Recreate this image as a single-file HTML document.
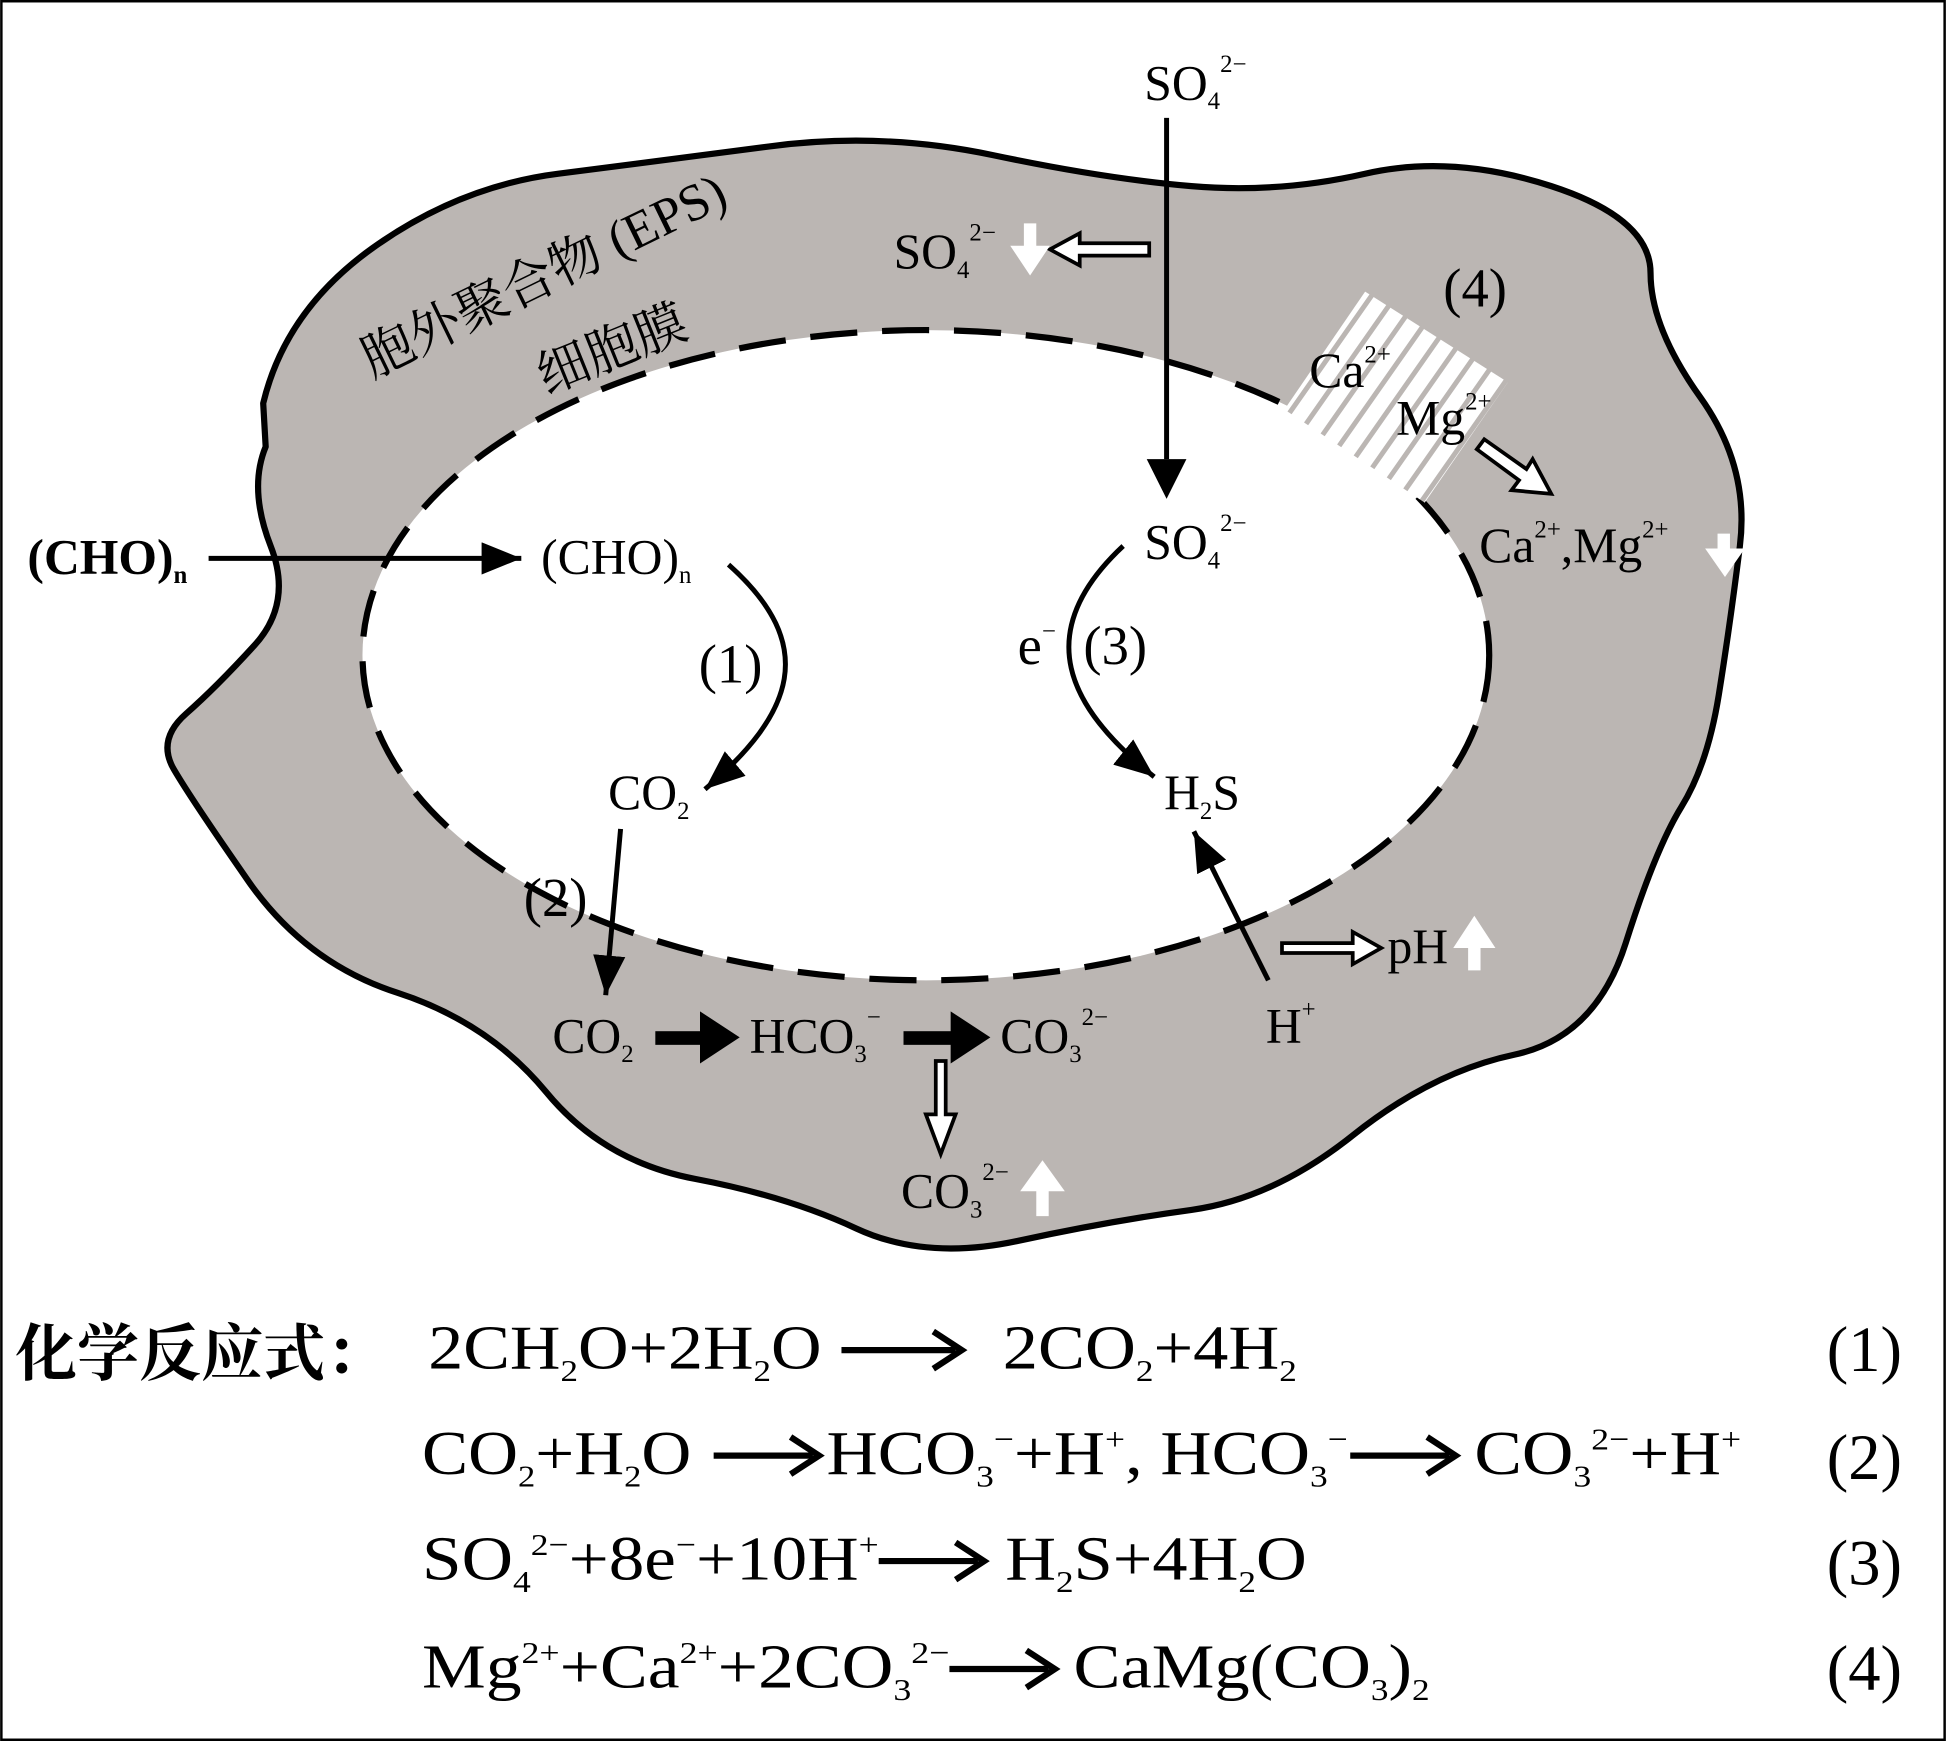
<!DOCTYPE html>
<html><head><meta charset="utf-8"><style>html,body{margin:0;padding:0;background:#fff}svg{display:block}text{font-family:"Liberation Serif","Noto Serif CJK SC",serif;fill:#000}</style></head><body>
<svg width="1946" height="1741" viewBox="0 0 1568 1403" xmlns="http://www.w3.org/2000/svg">
<defs>
<marker id="ah" markerWidth="32" markerHeight="26" refX="10" refY="5" orient="auto" markerUnits="userSpaceOnUse" viewBox="0 0 10 10" preserveAspectRatio="none"><path d="M0,0 L10,5 L0,10 z" fill="#000"/></marker>
<pattern id="hatch" width="16" height="16" patternUnits="userSpaceOnUse" patternTransform="rotate(35)"><rect width="16" height="16" fill="#fff"/><rect x="0" y="0" width="4" height="16" fill="#bbb6b3"/></pattern>
</defs>
<rect x="1" y="1" width="1566" height="1401" fill="#fff" stroke="#000" stroke-width="2"/>
<path d="M212,325 Q230,250 300,200 T450,140 T620,118 T800,125 T960,150 T1100,140 T1250,150 T1330,220 T1370,320 T1402,440 T1385,560 T1355,650 T1310,760 T1220,850 T1090,915 T960,975 T820,1000 T690,990 T560,950 T440,880 T320,800 T200,710 T140,620 T150,575 T205,520 T218,440 T214,360 Z" fill="#bbb6b3" stroke="#000" stroke-width="5" stroke-linejoin="round"/>
<ellipse cx="746" cy="528" rx="454" ry="262" fill="#fff" stroke="#000" stroke-width="5" stroke-dasharray="38 20"/>
<polygon points="1100,235 1215,308 1148,405 1035,330" fill="url(#hatch)"/>
<g font-size="40">
<text transform="translate(300,305) rotate(-26)" font-size="42">胞外聚合物 (EPS)</text>
<text transform="translate(440,318) rotate(-22)" font-size="42">细胞膜</text>
<text x="922" y="80">SO<tspan font-size="20" dy="8">4</tspan><tspan font-size="20" dy="-30">2−</tspan></text>
<text x="720" y="216">SO<tspan font-size="20" dy="8">4</tspan><tspan font-size="20" dy="-30">2−</tspan></text>
<text x="1163" y="247" font-size="44">(4)</text>
<text x="1055" y="312">Ca<tspan font-size="20" dy="-20">2+</tspan></text>
<text x="1125" y="350">Mg<tspan font-size="20" dy="-20">2+</tspan></text>
<text x="1192" y="453">Ca<tspan font-size="20" dy="-20">2+</tspan><tspan dy="20">,Mg</tspan><tspan font-size="20" dy="-20">2+</tspan></text>
<text x="22" y="462" font-weight="bold">(CHO)<tspan font-size="20" dy="8">n</tspan></text>
<text x="436" y="462">(CHO)<tspan font-size="20" dy="8">n</tspan></text>
<text x="922" y="450">SO<tspan font-size="20" dy="8">4</tspan><tspan font-size="20" dy="-30">2−</tspan></text>
<text x="563" y="550" font-size="44">(1)</text>
<text x="820" y="535" font-size="44">e<tspan font-size="20" dy="-20">−</tspan></text>
<text x="873" y="535" font-size="44">(3)</text>
<text x="490" y="652">CO<tspan font-size="20" dy="8">2</tspan></text>
<text x="938" y="652">H<tspan font-size="20" dy="8">2</tspan><tspan dy="-8">S</tspan></text>
<text x="422" y="738" font-size="44">(2)</text>
<text x="1118" y="776">pH</text>
<text x="445" y="848">CO<tspan font-size="20" dy="8">2</tspan></text>
<text x="604" y="848">HCO<tspan font-size="20" dy="8">3</tspan><tspan font-size="20" dy="-30">−</tspan></text>
<text x="806" y="848">CO<tspan font-size="20" dy="8">3</tspan><tspan font-size="20" dy="-30">2−</tspan></text>
<text x="1020" y="840">H<tspan font-size="20" dy="-20">+</tspan></text>
<text x="726" y="973">CO<tspan font-size="20" dy="8">3</tspan><tspan font-size="20" dy="-30">2−</tspan></text>
</g>
<g stroke="#000" stroke-width="4" fill="none">
<line x1="940" y1="95" x2="940" y2="370"/>
<line x1="168" y1="450" x2="420" y2="450" marker-end="url(#ah)"/>
<path d="M587,455 C660,520 640,575 568,636" marker-end="url(#ah)"/>
<path d="M905,440 C830,510 860,570 930,626" marker-end="url(#ah)"/>
<line x1="500" y1="668" x2="488" y2="802" marker-end="url(#ah)"/>
<line x1="1022" y1="790" x2="962" y2="670" marker-end="url(#ah)"/>
</g>
<path d="M924,370 L956,370 L940,402 Z" fill="#000"/>
<rect x="528" y="831" width="38" height="11" fill="#000"/>
<path d="M564,815 L596,836 L564,857 Z" fill="#000"/>
<rect x="728" y="831" width="40" height="11" fill="#000"/>
<path d="M766,815 L798,836 L766,857 Z" fill="#000"/>
<path d="M926,196 L926,206 L870,206 L870,214 L846,201 L870,188 L870,196 Z" fill="#fff" stroke="#000" stroke-width="3"/>
<path d="M1190,362 L1196,354 L1230,378 L1235,370 L1250,398 L1218,395 L1224,387 Z" fill="#fff" stroke="#000" stroke-width="3"/>
<path d="M1033,760 L1033,768 L1090,768 L1090,777 L1113,764 L1090,751 L1090,760 Z" fill="#fff" stroke="#000" stroke-width="3"/>
<path d="M754,855 L762,855 L762,898 L770,898 L758,930 L746,898 L754,898 Z" fill="#fff" stroke="#000" stroke-width="3"/>
<g fill="#fff">
<path d="M825,180 L835,180 L835,198 L846,198 L830,222 L814,198 L825,198 Z"/>
<path d="M1384,430 L1394,430 L1394,442 L1406,442 L1390,465 L1374,442 L1384,442 Z"/>
<path d="M1183,782 L1193,782 L1193,764 L1205,764 L1188,738 L1171,764 L1183,764 Z"/>
<path d="M835,980 L845,980 L845,960 L858,960 L840,935 L822,960 L835,960 Z"/>
</g>
<g font-size="50">
<text x="12" y="1108" font-weight="bold" font-family="'Noto Serif CJK SC','Noto Sans CJK SC',serif">化学反应式：</text>
<text x="345" y="1103" textLength="317" lengthAdjust="spacingAndGlyphs">2CH<tspan font-size="25" dy="10">2</tspan><tspan dy="-10">O+2H</tspan><tspan font-size="25" dy="10">2</tspan><tspan dy="-10">O</tspan></text>
<text x="808" y="1103" textLength="237" lengthAdjust="spacingAndGlyphs">2CO<tspan font-size="25" dy="10">2</tspan><tspan dy="-10">+4H</tspan><tspan font-size="25" dy="10">2</tspan></text>
<text x="340" y="1188" textLength="217" lengthAdjust="spacingAndGlyphs">CO<tspan font-size="25" dy="10">2</tspan><tspan dy="-10">+H</tspan><tspan font-size="25" dy="10">2</tspan><tspan dy="-10">O</tspan></text>
<text x="666" y="1188" textLength="420" lengthAdjust="spacingAndGlyphs">HCO<tspan font-size="25" dy="10">3</tspan><tspan font-size="25" dy="-30">−</tspan><tspan dy="20">+H</tspan><tspan font-size="25" dy="-20">+</tspan><tspan dy="20">, HCO</tspan><tspan font-size="25" dy="10">3</tspan><tspan font-size="25" dy="-30">−</tspan></text>
<text x="1188" y="1188" textLength="215" lengthAdjust="spacingAndGlyphs">CO<tspan font-size="25" dy="10">3</tspan><tspan font-size="25" dy="-30">2−</tspan><tspan dy="20">+H</tspan><tspan font-size="25" dy="-20">+</tspan></text>
<text x="340" y="1273" textLength="368" lengthAdjust="spacingAndGlyphs">SO<tspan font-size="25" dy="10">4</tspan><tspan font-size="25" dy="-30">2−</tspan><tspan dy="20">+8e</tspan><tspan font-size="25" dy="-20">−</tspan><tspan dy="20">+10H</tspan><tspan font-size="25" dy="-20">+</tspan></text>
<text x="810" y="1273" textLength="243" lengthAdjust="spacingAndGlyphs">H<tspan font-size="25" dy="10">2</tspan><tspan dy="-10">S+4H</tspan><tspan font-size="25" dy="10">2</tspan><tspan dy="-10">O</tspan></text>
<text x="340" y="1360" textLength="425" lengthAdjust="spacingAndGlyphs">Mg<tspan font-size="25" dy="-20">2+</tspan><tspan dy="20">+Ca</tspan><tspan font-size="25" dy="-20">2+</tspan><tspan dy="20">+2CO</tspan><tspan font-size="25" dy="10">3</tspan><tspan font-size="25" dy="-30">2−</tspan></text>
<text x="865" y="1360" textLength="287" lengthAdjust="spacingAndGlyphs">CaMg(CO<tspan font-size="25" dy="10">3</tspan><tspan dy="-10">)</tspan><tspan font-size="25" dy="10">2</tspan></text>
<text x="1472" y="1105" font-size="52">(1)</text>
<text x="1472" y="1192" font-size="52">(2)</text>
<text x="1472" y="1277" font-size="52">(3)</text>
<text x="1472" y="1362" font-size="52">(4)</text>
</g>
<g stroke="#000" stroke-width="5" fill="none">
<line x1="678" y1="1088" x2="770" y2="1088"/><path d="M752,1073 L775,1088 L752,1103"/>
<line x1="575" y1="1173" x2="655" y2="1173"/><path d="M637,1158 L660,1173 L637,1188"/>
<line x1="1088" y1="1173" x2="1168" y2="1173"/><path d="M1150,1158 L1173,1173 L1150,1188"/>
<line x1="708" y1="1258" x2="788" y2="1258"/><path d="M770,1243 L793,1258 L770,1273"/>
<line x1="765" y1="1345" x2="845" y2="1345"/><path d="M827,1330 L850,1345 L827,1360"/>
</g>
</svg>
</body></html>
